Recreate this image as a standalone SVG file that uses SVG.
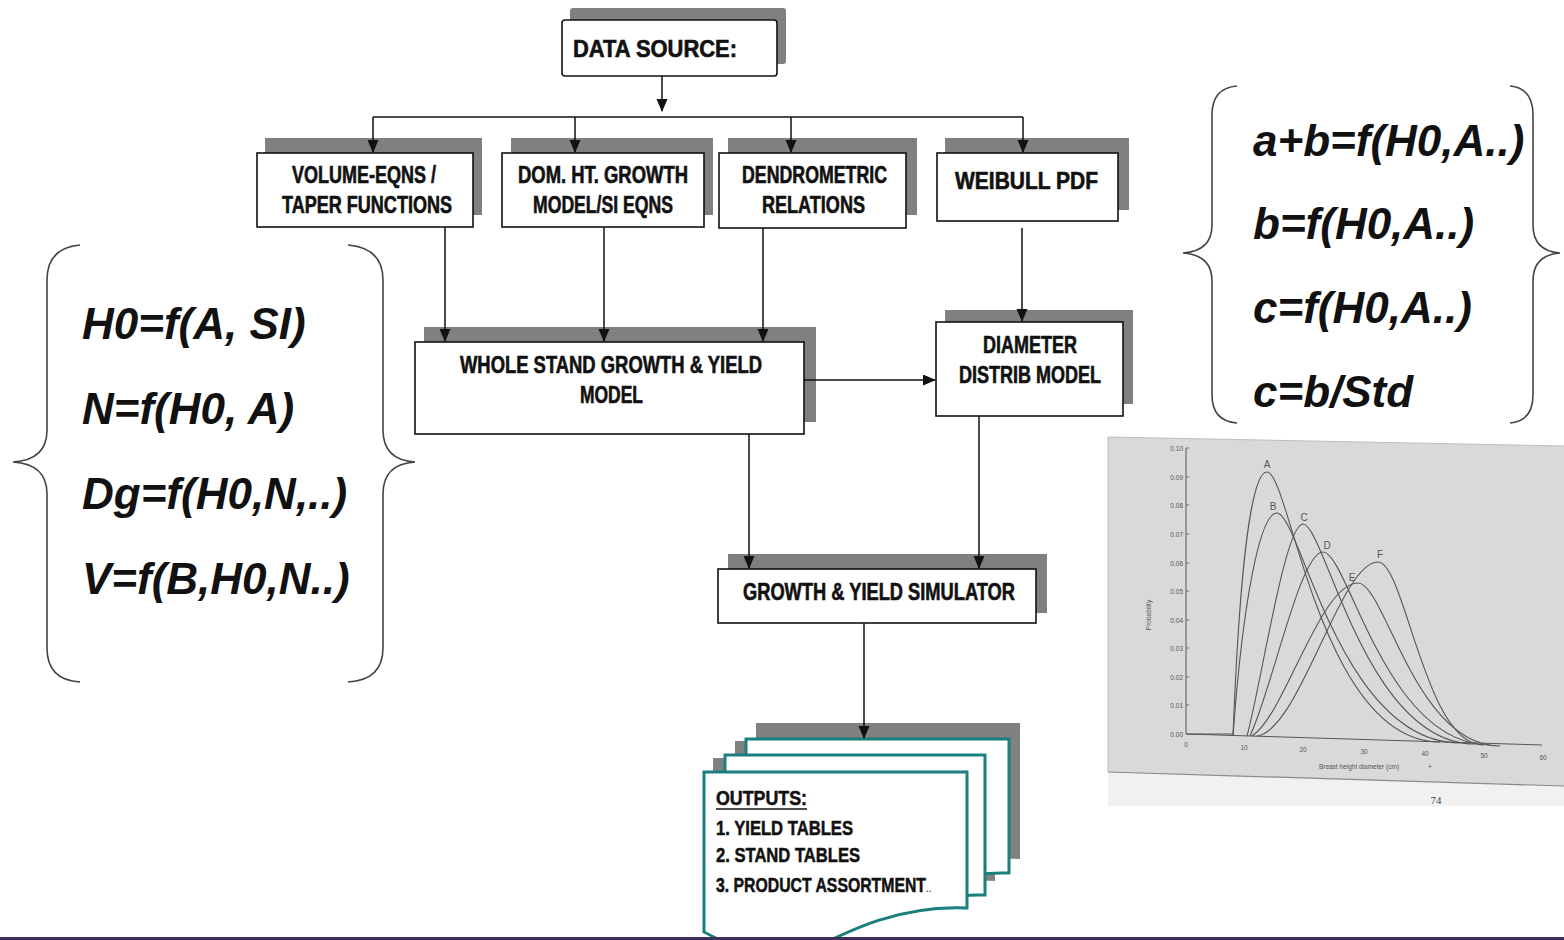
<svg xmlns="http://www.w3.org/2000/svg" width="1564" height="940" viewBox="0 0 1564 940">
<style>
.box{fill:#fff;stroke:#111;stroke-width:1.6}
.sh{fill:#808080}
.bt{font-family:"Liberation Sans",Arial,sans-serif;font-weight:bold;font-size:23px;fill:#111;stroke:#111;stroke-width:0.6}
.ot{font-family:"Liberation Sans",Arial,sans-serif;font-weight:bold;font-size:20px;fill:#111;stroke:#111;stroke-width:0.5}
.fm{font-family:"Liberation Sans",Arial,sans-serif;font-weight:bold;font-style:italic;font-size:44px;fill:#111}
.br{fill:none;stroke:#444;stroke-width:1.6}
.cn{fill:none;stroke:#111;stroke-width:1.5}
.page{fill:#fff;stroke:#1a7f7e;stroke-width:3}
.cv{fill:none;stroke:#555;stroke-width:1.1}
.tk{font-family:"Liberation Sans",Arial,sans-serif;font-size:6.5px;fill:#555}
.cl{font-family:"Liberation Sans",Arial,sans-serif;font-size:10px;fill:#555}
</style>
<defs>
<marker id="ah" markerUnits="userSpaceOnUse" markerWidth="14" markerHeight="12" refX="12" refY="5.5" orient="auto">
<path d="M0,0 L13,5.5 L0,11 Z" fill="#111"/>
</marker>
</defs>
<rect width="1564" height="940" fill="#fff"/>

<g id="data-source">
<rect class="sh" x="570" y="8" width="216" height="56" rx="3"/>
<rect class="box" x="562" y="20" width="215" height="56" rx="3"/>
<text class="bt" x="573" y="57" textLength="164" lengthAdjust="spacingAndGlyphs">DATA SOURCE:</text>
</g>

<g id="volume">
<rect class="sh" x="265" y="138" width="217" height="77"/>
<rect class="box" x="257" y="153" width="216" height="74"/>
<text class="bt" x="292" y="183" textLength="144" lengthAdjust="spacingAndGlyphs">VOLUME-EQNS /</text>
<text class="bt" x="282" y="213" textLength="170" lengthAdjust="spacingAndGlyphs">TAPER FUNCTIONS</text>
</g>

<g id="domht">
<rect class="sh" x="511" y="138" width="202" height="77"/>
<rect class="box" x="502" y="153" width="202" height="74"/>
<text class="bt" x="518" y="183" textLength="170" lengthAdjust="spacingAndGlyphs">DOM. HT. GROWTH</text>
<text class="bt" x="533" y="213" textLength="140" lengthAdjust="spacingAndGlyphs">MODEL/SI EQNS</text>
</g>

<g id="dendro">
<rect class="sh" x="728" y="138" width="189" height="77"/>
<rect class="box" x="719" y="153" width="187" height="75"/>
<text class="bt" x="742" y="183" textLength="145" lengthAdjust="spacingAndGlyphs">DENDROMETRIC</text>
<text class="bt" x="762" y="213" textLength="103" lengthAdjust="spacingAndGlyphs">RELATIONS</text>
</g>

<g id="weibull">
<rect class="sh" x="945" y="138" width="184" height="72"/>
<rect class="box" x="937" y="153" width="181" height="68"/>
<text class="bt" x="955" y="189" textLength="143" lengthAdjust="spacingAndGlyphs">WEIBULL PDF</text>
</g>

<g id="whole-stand">
<rect class="sh" x="424" y="327" width="392" height="95"/>
<rect class="box" x="415" y="342" width="389" height="92"/>
<text class="bt" x="460" y="373" textLength="302" lengthAdjust="spacingAndGlyphs">WHOLE STAND GROWTH  &amp; YIELD</text>
<text class="bt" x="580" y="403" textLength="63" lengthAdjust="spacingAndGlyphs">MODEL</text>
</g>

<g id="diameter">
<rect class="sh" x="945" y="310" width="188" height="94"/>
<rect class="box" x="936" y="322" width="187" height="94"/>
<text class="bt" x="983" y="353" textLength="94" lengthAdjust="spacingAndGlyphs">DIAMETER</text>
<text class="bt" x="959" y="383" textLength="142" lengthAdjust="spacingAndGlyphs">DISTRIB MODEL</text>
</g>

<g id="simulator">
<rect class="sh" x="728" y="554" width="319" height="59"/>
<rect class="box" x="718" y="569" width="318" height="54"/>
<text class="bt" x="743" y="600" textLength="272" lengthAdjust="spacingAndGlyphs">GROWTH &amp; YIELD SIMULATOR</text>
</g>

<g id="outputs">
<path class="sh" d="M756,723 H1020 V859 C955,857 905,879 865,896 C825,914 785,894 756,882 Z"/>
<path class="sh" d="M735,741 H995 V881 C930,879 880,901 840,918 C800,936 760,916 735,904 Z"/>
<path class="sh" d="M713,758 H977 V894 C910,891 860,916 820,936 C780,956 740,931 713,918 Z"/>
<path class="page" d="M746,739 H1009 V873 C945,871 895,893 855,910 C815,928 775,908 746,896 Z"/>
<path class="page" d="M725,755 H985 V895 C920,893 870,915 830,932 C790,950 750,930 725,918 Z"/>
<path class="page" d="M704,772 H967 V908 C900,905 850,930 810,950 C770,970 730,945 704,932 Z"/>
<text class="ot" x="716" y="805" textLength="91" lengthAdjust="spacingAndGlyphs">OUTPUTS:</text>
<line x1="716" y1="809" x2="807" y2="809" stroke="#111" stroke-width="1.5"/>
<text class="ot" x="716" y="835" textLength="137" lengthAdjust="spacingAndGlyphs">1. YIELD TABLES</text>
<text class="ot" x="716" y="862" textLength="144" lengthAdjust="spacingAndGlyphs">2. STAND TABLES</text>
<text class="ot" transform="translate(716,892) scale(0.79,1)">3. PRODUCT ASSORTMENT<tspan font-weight="normal" font-size="12" stroke="none">..</tspan></text>
</g>

<!-- Connectors (drawn over shadows so arrowheads stay visible) -->
<g id="connectors">
<path class="cn" d="M662,76 V111" marker-end="url(#ah)"/>
<path class="cn" d="M373,117 H1023"/>
<path class="cn" d="M373,117 V152" marker-end="url(#ah)"/>
<path class="cn" d="M575,117 V152" marker-end="url(#ah)"/>
<path class="cn" d="M791,117 V152" marker-end="url(#ah)"/>
<path class="cn" d="M1023,117 V152" marker-end="url(#ah)"/>
<path class="cn" d="M445,227 V341" marker-end="url(#ah)"/>
<path class="cn" d="M604,227 V341" marker-end="url(#ah)"/>
<path class="cn" d="M763,228 V341" marker-end="url(#ah)"/>
<path class="cn" d="M1022,228 V321" marker-end="url(#ah)"/>
<path class="cn" d="M804,380 H935" marker-end="url(#ah)"/>
<path class="cn" d="M749,434 V568" marker-end="url(#ah)"/>
<path class="cn" d="M979,416 V568" marker-end="url(#ah)"/>
<path class="cn" d="M864,623 V738" marker-end="url(#ah)"/>
</g>

<g id="left-formulas">
<path class="br" d="M80,245 Q47,248 47,280 V430 Q47,460 13,462 Q47,464 47,494 V648 Q47,680 80,682"/>
<path class="br" d="M348,245 Q383,248 383,280 V430 Q383,460 415,462 Q383,464 383,494 V648 Q383,680 348,682"/>
<text class="fm" x="82" y="339">H0=f(A, SI)</text>
<text class="fm" x="82" y="424">N=f(H0, A)</text>
<text class="fm" x="82" y="509">Dg=f(H0,N,..)</text>
<text class="fm" x="82" y="594">V=f(B,H0,N..)</text>
</g>

<g id="right-formulas">
<path class="br" d="M1237,86 Q1212,88 1212,115 V225 Q1212,251 1183,253 Q1212,255 1212,281 V395 Q1212,421 1237,423"/>
<path class="br" d="M1510,86 Q1533,88 1533,115 V225 Q1533,251 1560,253 Q1533,255 1533,281 V395 Q1533,421 1510,423"/>
<text class="fm" x="1253" y="156">a+b=f(H0,A..)</text>
<text class="fm" x="1253" y="239">b=f(H0,A..)</text>
<text class="fm" x="1253" y="323">c=f(H0,A..)</text>
<text class="fm" x="1253" y="407">c=b/Std</text>
</g>

<g id="weibull-chart">
<polygon points="1108,772 1564,786 1564,806 1108,806" fill="#f1f1f1"/>
<polygon points="1108,437 1564,446 1564,786 1108,772" fill="#d9d9d9"/>
<line x1="1108" y1="437" x2="1564" y2="446" stroke="#bdbdbd" stroke-width="1"/>
<line x1="1108" y1="772" x2="1564" y2="786" stroke="#8a8a8a" stroke-width="1.2"/>
<line x1="1108" y1="437" x2="1108" y2="772" stroke="#bdbdbd" stroke-width="1"/>
<path d="M1186,448 V734 L1542,745" fill="none" stroke="#555" stroke-width="1"/>
<g stroke="#555" stroke-width="0.8">
<line x1="1186" y1="448" x2="1189" y2="448"/><line x1="1186" y1="477" x2="1189" y2="477"/>
<line x1="1186" y1="505" x2="1189" y2="505"/><line x1="1186" y1="534" x2="1189" y2="534"/>
<line x1="1186" y1="563" x2="1189" y2="563"/><line x1="1186" y1="591" x2="1189" y2="591"/>
<line x1="1186" y1="620" x2="1189" y2="620"/><line x1="1186" y1="648" x2="1189" y2="648"/>
<line x1="1186" y1="677" x2="1189" y2="677"/><line x1="1186" y1="705" x2="1189" y2="705"/>
</g>
<g class="tk" text-anchor="end">
<text x="1183" y="451">0.10</text><text x="1183" y="480">0.09</text>
<text x="1183" y="508">0.08</text><text x="1183" y="537">0.07</text>
<text x="1183" y="566">0.06</text><text x="1183" y="594">0.05</text>
<text x="1183" y="623">0.04</text><text x="1183" y="651">0.03</text>
<text x="1183" y="680">0.02</text><text x="1183" y="708">0.01</text>
<text x="1183" y="737">0.00</text>
</g>
<g class="tk" text-anchor="middle">
<text x="1186" y="747">0</text><text x="1244" y="750">10</text>
<text x="1303" y="752">20</text><text x="1364" y="754">30</text>
<text x="1425" y="756">40</text><text x="1484" y="758">50</text>
<text x="1543" y="760">60</text>
<text x="1359" y="769">Breast height diameter (cm)</text>
<text x="1430" y="769">+</text>
</g>
<text class="tk" transform="translate(1151,615) rotate(-90)" text-anchor="middle" font-size="7">Probability</text>
<path class="cv" d="M1186,734 H1233"/>
<path class="cv" d="M1233,735.5 C1240,560 1252,472 1267,472 C1290,472 1320,742 1440,742"/>
<path class="cv" d="M1233,735.5 C1243,600 1260,513 1277,513 C1300,513 1340,743 1460,743"/>
<path class="cv" d="M1247,736 C1262,680 1285,524 1303,524 C1325,524 1365,744 1475,744"/>
<path class="cv" d="M1250,736 C1272,690 1300,552 1323,552 C1348,552 1385,745 1490,745"/>
<path class="cv" d="M1252,736 C1285,715 1320,583 1358,583 C1385,583 1415,746 1500,746"/>
<path class="cv" d="M1257,736 C1300,730 1340,562 1378,562 C1405,562 1425,745 1483,745"/>
<g class="cl" text-anchor="middle">
<text x="1267" y="468">A</text><text x="1273" y="510">B</text>
<text x="1304" y="521">C</text><text x="1327" y="549">D</text>
<text x="1352" y="581">E</text><text x="1380" y="558">F</text>
</g>
<text x="1436" y="804" font-family="Liberation Serif, serif" font-size="11" fill="#444" text-anchor="middle">74</text>
</g>

<rect x="0" y="937" width="1564" height="3" fill="#3c2f5c"/>
</svg>
